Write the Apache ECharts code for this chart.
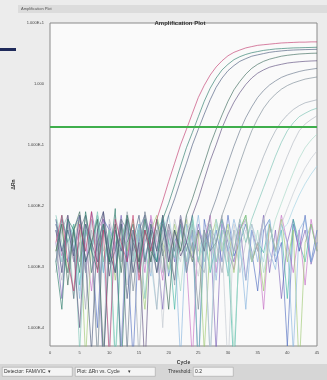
<!DOCTYPE html>
<html>
<head>
<meta charset="utf-8">
<title>Amplification Plot</title>
<script src="https://cdn.jsdelivr.net/npm/echarts@6/dist/echarts.min.js"></script>
<style>
    html, body { margin: 0; padding: 0; background: #ececec; }
    #AmpPlot { width: 327px; height: 380px; }
</style>
</head>
<body>
<div id="AmpPlot"></div>
<script>
// 循环数 1..45
var cycles = [];
for (var c = 1; c <= 45; c++) { cycles.push(c); }

// x 轴刻度
var xTicks = [0, 5, 10, 15, 20, 25, 30, 35, 40, 45];
var threshold = 0.2;

// 扩增曲线 (ΔRn)
var wellA = [0.0025,0.007,0.0012,0.0004,0.005,0.0018,0.008,0.0008,0.004,0.00003,0.006,0.0025,0.0012,0.007,0.0006,0.004,0.0018,
    0.006,0.012,0.025,0.05,0.1,0.18,0.33,0.6,0.95,1.4,1.9,2.4,2.9,3.3,3.6,3.9,4.1,4.3,4.4,4.5,4.6,4.7,4.75,4.8,4.85,4.85,4.9,4.9];
var wellB = [0.0012,0.0002,0.006,0.004,0.0008,0.008,0.0018,0.0009,0.005,0.0012,0.009,0.00002,0.0025,0.005,0.0008,0.006,0.0018,0.0012,
    0.006,0.011,0.022,0.045,0.09,0.16,0.29,0.52,0.85,1.25,1.7,2.1,2.5,2.8,3.05,3.25,3.4,3.55,3.65,3.75,3.8,3.85,3.9,3.92,3.95,3.97,4.0];
var wellC = [0.006,0.0018,0.004,0.0015,0.007,0.0012,0.00004,0.004,0.008,0.0018,0.0008,0.005,0.0003,0.0025,0.007,0.0012,0.004,0.0008,0.0025,
    0.007,0.013,0.026,0.05,0.1,0.18,0.32,0.55,0.88,1.25,1.65,2.0,2.35,2.6,2.85,3.0,3.15,3.3,3.4,3.48,3.55,3.6,3.63,3.66,3.68,3.7];
var wellD = [0.0018,0.005,0.0005,0.004,0.008,0.0012,0.0025,0.006,0.00003,0.0018,0.005,0.0008,0.007,0.0025,0.0012,0.004,0.0012,0.006,0.0018,0.0002,0.004,0.0018,
    0.007,0.013,0.026,0.05,0.1,0.18,0.31,0.52,0.8,1.1,1.45,1.8,2.1,2.35,2.55,2.7,2.85,2.95,3.03,3.1,3.14,3.18,3.2];
var wellE = [0.004,0.0008,0.007,0.0018,0.0001,0.005,0.0025,0.0012,0.008,0.0007,0.004,0.0018,0.006,0.0008,0.0025,0.00002,0.005,0.0018,0.007,0.0012,0.004,0.0015,0.0025,
    0.007,0.013,0.027,0.055,0.1,0.19,0.32,0.5,0.72,0.98,1.25,1.5,1.7,1.88,2.0,2.1,2.2,2.26,2.31,2.35,2.38,2.4];
var wellF = [0.0012,0.006,0.0025,0.0003,0.004,0.007,0.0008,0.0025,0.005,0.0011,0.0018,0.006,0.00004,0.004,0.0012,0.008,0.0025,0.0008,0.005,0.0018,0.0006,0.006,0.0025,0.0012,0.004,0.0018,
    0.007,0.013,0.026,0.05,0.095,0.17,0.28,0.42,0.6,0.78,0.96,1.12,1.28,1.4,1.5,1.6,1.68,1.74,1.8];
var wellG = [0.005,0.0018,0.0008,0.004,0.0012,0.007,0.0025,0.00003,0.005,0.0018,0.0008,0.006,0.004,0.0004,0.0025,0.007,0.0012,0.004,0.0015,0.005,0.0018,0.006,0.0008,0.0025,0.0002,0.004,0.0018,0.0025,
    0.007,0.013,0.025,0.05,0.095,0.17,0.27,0.4,0.54,0.68,0.82,0.94,1.04,1.12,1.2,1.25,1.3];
var wellH = [0.0008,0.004,0.007,0.0012,0.0025,0.0002,0.006,0.0018,0.004,0.0012,0.005,0.0012,0.008,0.0025,0.00003,0.004,0.0018,0.006,0.0008,0.004,0.0005,0.007,0.0018,0.004,0.0012,0.0008,0.005,0.0025,0.0008,0.004,0.0018,
    0.006,0.011,0.02,0.036,0.065,0.11,0.17,0.24,0.31,0.38,0.44,0.49,0.52,0.55];
var wellI = [0.007,0.0025,0.0008,0.005,0.00004,0.004,0.0018,0.008,0.0012,0.004,0.0009,0.0025,0.006,0.0008,0.004,0.0003,0.005,0.0018,0.007,0.0025,0.0014,0.004,0.0012,0.006,0.00002,0.0025,0.005,0.0012,0.004,0.0007,0.0018,0.006,0.0025,
    0.006,0.011,0.02,0.036,0.065,0.11,0.17,0.23,0.29,0.33,0.37,0.4];
var wellJ = [0.0018,0.0006,0.005,0.0025,0.007,0.0008,0.004,0.0018,0.00005,0.006,0.0025,0.0012,0.005,0.0015,0.004,0.007,0.0018,0.0002,0.004,0.0012,0.006,0.0025,0.001,0.005,0.0018,0.004,0.00003,0.0025,0.007,0.0012,0.004,0.0008,0.0025,0.005,0.0018,
    0.006,0.011,0.02,0.037,0.065,0.11,0.17,0.22,0.26,0.3];
var wellK = [0.004,0.0012,0.006,0.0003,0.0025,0.005,0.0008,0.007,0.0018,0.004,0.00002,0.0025,0.006,0.0012,0.004,0.0011,0.005,0.0018,0.007,0.0008,0.0025,0.0004,0.004,0.006,0.0012,0.0025,0.0009,0.005,0.0018,0.004,0.00004,0.0025,0.006,0.0012,0.004,0.0008,0.0025,
    0.006,0.011,0.02,0.035,0.06,0.09,0.12,0.15];
var wellL = [0.0012,0.005,0.0025,0.0013,0.006,0.0018,0.004,0.00003,0.005,0.0012,0.007,0.0025,0.0005,0.004,0.0018,0.006,0.0008,0.004,0.0001,0.005,0.0025,0.0012,0.007,0.0018,0.0007,0.004,0.006,0.0012,0.0025,0.00002,0.005,0.0018,0.004,0.0016,0.0025,0.006,0.0012,0.0018,
    0.005,0.009,0.016,0.027,0.042,0.06,0.08];
var wellM = [0.006,0.0008,0.004,0.0018,0.0004,0.005,0.0025,0.007,0.0012,0.00005,0.004,0.0018,0.006,0.0012,0.0025,0.005,0.0012,0.0002,0.004,0.007,0.0018,0.0025,0.0008,0.005,0.0012,0.004,0.00003,0.006,0.0025,0.0008,0.004,0.0018,0.0006,0.005,0.0025,0.0012,0.006,0.0015,0.004,
    0.005,0.009,0.015,0.023,0.033,0.045];

// 阴性对照 (只有噪声)
var ntc1 = [0.0025,0.0003,0.006,0.0018,0.004,0.0008,0.008,0.0025,0.00002,0.005,0.0018,0.007,0.0012,0.004,0.0009,0.0025,0.006,0.0018,0.0002,0.004,0.0012,0.007,0.0025,0.0014,0.005,0.0018,0.004,0.00004,0.006,0.0025,0.0012,0.005,0.0006,0.004,0.0018,0.007,0.0008,0.004,0.0003,0.0025,0.006,0.0018,0.004,0.0011,0.0025];
var ntc2 = [0.005,0.0018,0.0012,0.004,0.007,0.0012,0.0025,0.0001,0.006,0.004,0.0008,0.005,0.0018,0.00003,0.004,0.007,0.0025,0.0012,0.006,0.0007,0.0025,0.005,0.0008,0.004,0.00002,0.006,0.0018,0.004,0.0012,0.007,0.0015,0.0025,0.005,0.0018,0.0004,0.004,0.006,0.0012,0.0025,0.00005,0.005,0.0018,0.007,0.0012,0.004];
var ntc3 = [0.0012,0.007,0.0025,0.005,0.0005,0.004,0.0018,0.006,0.0008,0.004,0.00003,0.0025,0.007,0.0018,0.005,0.0013,0.004,0.0012,0.006,0.0025,0.0002,0.005,0.0018,0.007,0.0012,0.004,0.0008,0.0025,0.006,0.0018,0.00002,0.004,0.007,0.0012,0.0025,0.0017,0.005,0.0018,0.004,0.0003,0.006,0.0025,0.0012,0.005,0.0018];
var ntc4 = [0.004,0.0015,0.005,0.0012,0.007,0.0025,0.0004,0.004,0.006,0.0012,0.0025,0.00004,0.005,0.0018,0.004,0.0008,0.007,0.0025,0.0006,0.005,0.0018,0.006,0.0012,0.00003,0.004,0.0025,0.007,0.0008,0.005,0.0018,0.0009,0.004,0.006,0.0012,0.0025,0.0002,0.005,0.0018,0.007,0.0025,0.0008,0.004,0.0005,0.006,0.0018];
var ntc5 = [0.0018,0.005,0.0008,0.004,0.006,0.00003,0.0025,0.007,0.0012,0.004,0.0006,0.005,0.0018,0.006,0.0012,0.0002,0.004,0.007,0.0025,0.0009,0.005,0.0018,0.006,0.0012,0.004,0.00004,0.0025,0.006,0.0018,0.005,0.0008,0.004,0.007,0.0012,0.0025,0.0004,0.005,0.0018,0.006,0.0012,0.004,0.00002,0.0025,0.005,0.0018];
var ntc6 = [0.004,0.0012,0.006,0.0025,0.0003,0.005,0.0018,0.007,0.0008,0.004,0.0025,0.00005,0.006,0.0012,0.005,0.0018,0.0007,0.004,0.006,0.0012,0.0025,0.00003,0.005,0.0018,0.007,0.0012,0.004,0.0006,0.005,0.0018,0.006,0.0025,0.0002,0.004,0.0012,0.006,0.0018,0.0009,0.005,0.0025,0.00004,0.004,0.006,0.0012,0.0025];

var wells = [
    { name: 'N1', data: ntc1, color: '#7a62b8' },
    { name: 'N2', data: ntc2, color: '#4e6cc0' },
    { name: 'N3', data: ntc3, color: '#3fb5a2' },
    { name: 'N4', data: ntc4, color: '#c46cc4' },
    { name: 'N5', data: ntc5, color: '#9cc870' },
    { name: 'N6', data: ntc6, color: '#86b4de' },
    { name: 'M', data: wellM, color: '#9fd2e2' },
    { name: 'L', data: wellL, color: '#c2c8d0' },
    { name: 'K', data: wellK, color: '#a6d8c6' },
    { name: 'J', data: wellJ, color: '#b2b8c2' },
    { name: 'I', data: wellI, color: '#78c2b2' },
    { name: 'H', data: wellH, color: '#9aa6b0' },
    { name: 'G', data: wellG, color: '#7a8a96' },
    { name: 'F', data: wellF, color: '#66768a' },
    { name: 'E', data: wellE, color: '#5c4c7c' },
    { name: 'D', data: wellD, color: '#3c6a5c' },
    { name: 'C', data: wellC, color: '#4a5a7c' },
    { name: 'B', data: wellB, color: '#2a7a6a' },
    { name: 'A', data: wellA, color: '#c23a6e' }
];

function toPairs(arr) {
    var out = [];
    for (var i = 0; i < arr.length; i++) { out.push([cycles[i], arr[i]]); }
    return out;
}

function expLabel(v) {
    var p = Math.round(Math.log(v) / Math.LN10);
    if (p === 0) return '1.000';
    return '1.000E' + (p > 0 ? '+' : '') + p;
}

var series = [];
for (var w = 0; w < wells.length; w++) {
    series.push({
        name: wells[w].name,
        type: 'line',
        data: toPairs(wells[w].data),
        symbol: 'none',
        smooth: false,
        clip: true,
        lineStyle: { width: 0.8, color: wells[w].color, opacity: 0.8 },
        silent: true
    });
}
// 阈值线
series[series.length - 1].markLine = {
    silent: true,
    symbol: 'none',
    label: { show: false },
    lineStyle: { color: '#3fae4c', width: 2, type: 'solid' },
    data: [{ yAxis: threshold }]
};

var ampChart = echarts.init(document.getElementById('AmpPlot'));
ampChart.setOption({
    backgroundColor: '#ececec',
    animation: false,
    title: {
        text: 'Amplification Plot',
        left: 175,
        top: 15,
        textAlign: 'center',
        textStyle: { fontSize: 6, fontWeight: 'bold', color: '#333', fontFamily: 'Liberation Sans' }
    },
    grid: { left: 50, right: 10, top: 23, bottom: 34, show: true, backgroundColor: '#fafafa', borderColor: '#8a8a8a', borderWidth: 1 },
    xAxis: {
        type: 'value',
        min: xTicks[0],
        max: xTicks[xTicks.length - 1],
        interval: 5,
        name: 'Cycle',
        nameLocation: 'middle',
        nameGap: 12,
        nameTextStyle: { fontSize: 5, fontWeight: 'bold', color: '#333' },
        axisLine: { show: false },
        axisTick: { show: false },
        splitLine: { show: false },
        axisLabel: { fontSize: 4, color: '#444', margin: 5, fontFamily: 'Liberation Sans' }
    },
    yAxis: {
        type: 'log',
        logBase: 10,
        min: 0.00005,
        max: 10,
        name: 'ΔRn',
        nameLocation: 'middle',
        nameGap: 26,
        nameRotate: 90,
        nameTextStyle: { fontSize: 5, fontWeight: 'bold', color: '#333' },
        axisLine: { show: false },
        axisTick: { show: false },
        splitLine: { show: false },
        axisLabel: {
            fontSize: 4, color: '#444', margin: 6, showMinLabel: false,
            fontFamily: 'Liberation Sans',
            formatter: expLabel
        }
    },
    graphic: [
        // 左侧深蓝标记
        { type: 'rect', left: 0, top: 48, shape: { width: 16, height: 3 }, style: { fill: '#1f2a5a' } },
        // 面板标题栏
        { type: 'rect', left: 18, top: 5, shape: { width: 309, height: 8 }, style: { fill: '#dcdcdc' } },
        { type: 'text', left: 21, top: 7, style: { text: 'Amplification Plot', fontSize: 4, fill: '#555' } },
        // 底部工具栏
        { type: 'rect', left: 0, top: 364, shape: { width: 327, height: 16 }, style: { fill: '#d6d6d6' } },
        { type: 'rect', left: 2, top: 367, shape: { width: 70, height: 9 }, style: { fill: '#f4f4f4', stroke: '#999', lineWidth: 0.5 } },
        { type: 'text', left: 4, top: 369, style: { text: 'Detector: FAM/VIC  \u25BE', fontSize: 5, fill: '#333' } },
        { type: 'rect', left: 75, top: 367, shape: { width: 80, height: 9 }, style: { fill: '#f4f4f4', stroke: '#999', lineWidth: 0.5 } },
        { type: 'text', left: 77, top: 369, style: { text: 'Plot: ΔRn vs. Cycle      \u25BE', fontSize: 5, fill: '#333' } },
        { type: 'text', left: 168, top: 369, style: { text: 'Threshold:', fontSize: 5, fill: '#333' } },
        { type: 'rect', left: 193, top: 367, shape: { width: 40, height: 9 }, style: { fill: '#f4f4f4', stroke: '#999', lineWidth: 0.5 } },
        { type: 'text', left: 195, top: 369, style: { text: '0.2', fontSize: 5, fill: '#333' } }
    ],
    series: series
});
</script>
</body>
</html>
